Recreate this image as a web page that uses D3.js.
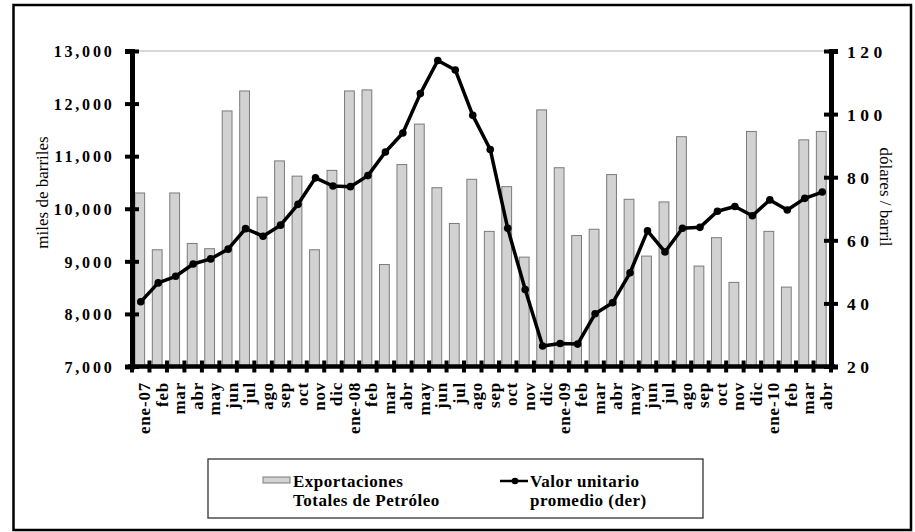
<!DOCTYPE html>
<html>
<head>
<meta charset="utf-8">
<script src="https://cdn.jsdelivr.net/npm/d3@7/dist/d3.min.js"></script>
<style>
  body { margin: 0; background: #fff; }
  svg { display: block; }
</style>
</head>
<body>
<script>
// months, ene-07 .. abr-10
var months = ["ene-07","feb","mar","abr","may","jun","jul","ago","sep","oct","nov","dic",
              "ene-08","feb","mar","abr","may","jun","jul","ago","sep","oct","nov","dic",
              "ene-09","feb","mar","abr","may","jun","jul","ago","sep","oct","nov","dic",
              "ene-10","feb","mar","abr"];

// Exportaciones totales de petroleo (miles de barriles)
var exportaciones = [10300, 9220, 10300, 9340, 9240, 11860, 12240, 10220, 10910, 10620, 9220, 10730,
                     12240, 12260, 8940, 10840, 11610, 10400, 9720, 10560, 9570, 10420, 9080, 11880,
                     10780, 9490, 9610, 10650, 10180, 9100, 10130, 11370, 8910, 9450, 8600, 11470,
                     9570, 8510, 11310, 11470];

// Valor unitario promedio (dolares / barril)
var valorUnitario = [40.5, 46.5, 48.6, 52.5, 54.1, 57.2, 63.7, 61.3, 64.8, 71.4, 79.8, 77.2,
                     77.0, 80.5, 88.0, 94.0, 106.5, 117.0, 114.0, 99.6, 88.8, 63.8, 44.4, 26.5,
                     27.3, 27.1, 36.7, 40.2, 49.7, 63.0, 56.3, 63.8, 64.1, 69.2, 70.7, 67.8,
                     72.8, 69.6, 73.3, 75.3];

var leftTicks = [7000, 8000, 9000, 10000, 11000, 12000, 13000];
var rightTicks = [20, 40, 60, 80, 100, 120];

function drawChart() {
  var W = 915, H = 532;
  var plotLeft = 132, plotRight = 831, plotTop = 51, plotBottom = 366.5;
  var serif = "'Liberation Serif', 'Times New Roman', serif";

  var svg = d3.select("body").append("svg")
    .attr("width", W)
    .attr("height", H);

  svg.append("rect").attr("width", W).attr("height", H).attr("fill", "#fff");

  // outer frame
  svg.append("rect")
    .attr("x", 13.5).attr("y", 5)
    .attr("width", 897.5).attr("height", 525)
    .attr("fill", "none")
    .attr("stroke", "#000")
    .attr("stroke-width", 2.5);

  // scales
  var x = d3.scaleBand()
    .domain(d3.range(months.length))
    .range([plotLeft, plotRight])
    .paddingInner(0.44)
    .paddingOuter(0.22);

  var y = d3.scaleLinear().domain([7000, 13000]).range([plotBottom, plotTop]);
  var y2 = d3.scaleLinear().domain([20, 120]).range([plotBottom, plotTop]);

  // top border of plot area
  svg.append("line")
    .attr("x1", plotLeft).attr("x2", plotRight)
    .attr("y1", y(13000)).attr("y2", y(13000))
    .attr("stroke", "#b0b0b0")
    .attr("stroke-width", 1);

  // bars
  svg.selectAll("rect.bar")
    .data(exportaciones)
    .enter().append("rect")
    .attr("class", "bar")
    .attr("x", function (d, i) { return x(i) - 1; })
    .attr("y", function (d) { return y(d); })
    .attr("width", x.bandwidth())
    .attr("height", function (d) { return y(7000) - y(d); })
    .attr("fill", "#d2d2d2")
    .attr("stroke", "#7a7a7a")
    .attr("stroke-width", 1);

  // line
  var line = d3.line()
    .x(function (d, i) { return x(i) + x.bandwidth() / 2; })
    .y(function (d) { return y2(d); });

  svg.append("path")
    .datum(valorUnitario)
    .attr("d", line)
    .attr("fill", "none")
    .attr("stroke", "#000")
    .attr("stroke-width", 3.5)
    .attr("stroke-linejoin", "round");

  svg.selectAll("circle.pt")
    .data(valorUnitario)
    .enter().append("circle")
    .attr("class", "pt")
    .attr("cx", function (d, i) { return x(i) + x.bandwidth() / 2; })
    .attr("cy", function (d) { return y2(d); })
    .attr("r", 3.8)
    .attr("fill", "#000");

  // left axis
  var gl = svg.append("g")
    .attr("transform", "translate(" + plotLeft + ",0)")
    .call(d3.axisLeft(y).tickValues(leftTicks).tickSize(7).tickFormat(d3.format(",")));
  gl.select(".domain").attr("stroke", "#000").attr("stroke-width", 5);
  gl.selectAll(".tick line").attr("x1", -7).attr("x2", 7).attr("stroke-width", 4);
  gl.selectAll(".tick text")
    .attr("x", -17.5)
    .attr("dy", "0.36em")
    .style("font-family", serif)
    .style("font-size", "16px")
    .style("font-weight", "bold")
    .style("letter-spacing", "2.8px")
    .attr("fill", "#000");

  // right axis
  var gr = svg.append("g")
    .attr("transform", "translate(" + plotRight + ",0)")
    .call(d3.axisRight(y2).tickValues(rightTicks).tickSize(7));
  gr.select(".domain").attr("stroke", "#000").attr("stroke-width", 5);
  gr.selectAll(".tick line").attr("x1", -7).attr("x2", 7).attr("stroke-width", 4);
  gr.selectAll(".tick text")
    .attr("x", 16)
    .attr("dy", "0.36em")
    .style("font-family", serif)
    .style("font-size", "17.5px")
    .style("font-weight", "bold")
    .style("letter-spacing", "4.5px")
    .attr("fill", "#000");

  // bottom axis with month labels
  var gb = svg.append("g")
    .attr("transform", "translate(0," + plotBottom + ")")
    .call(d3.axisBottom(x).tickSize(0).tickFormat(function (i) { return months[i]; }));
  gb.select(".domain").remove();
  gb.selectAll(".tick text")
    .attr("transform", "rotate(-90)")
    .attr("text-anchor", "end")
    .attr("x", -15.5)
    .attr("y", 9.5)
    .attr("dy", 0)
    .style("font-family", serif)
    .style("font-size", "17px")
    .style("font-weight", "bold")
    .style("letter-spacing", "0.8px")
    .attr("fill", "#000");

  svg.append("line")
    .attr("x1", plotLeft - 4).attr("x2", plotRight + 4)
    .attr("y1", plotBottom).attr("y2", plotBottom)
    .attr("stroke", "#000")
    .attr("stroke-width", 4.5);

  // ticks at the month boundaries
  svg.selectAll("line.bt")
    .data(d3.range(months.length + 1))
    .enter().append("line")
    .attr("class", "bt")
    .attr("x1", function (i) { return plotLeft + i * x.step(); })
    .attr("x2", function (i) { return plotLeft + i * x.step(); })
    .attr("y1", plotBottom - 6)
    .attr("y2", plotBottom + 6)
    .attr("stroke", "#000")
    .attr("stroke-width", 4);

  // axis titles
  svg.append("text")
    .attr("transform", "translate(48,192.5) rotate(-90)")
    .attr("text-anchor", "middle")
    .style("font-family", serif)
    .style("font-size", "17px")
    .text("miles de barriles");

  svg.append("text")
    .attr("transform", "translate(880,197) rotate(90)")
    .attr("text-anchor", "middle")
    .style("font-family", serif)
    .style("font-size", "17px")
    .text("dólares / barril");

  // legend
  var lg = svg.append("g");
  lg.append("rect")
    .attr("x", 208).attr("y", 459)
    .attr("width", 495).attr("height", 59)
    .attr("fill", "none")
    .attr("stroke", "#333")
    .attr("stroke-width", 1.3);

  lg.append("rect")
    .attr("x", 263).attr("y", 477)
    .attr("width", 27).attr("height", 6)
    .attr("fill", "#d2d2d2")
    .attr("stroke", "#7a7a7a")
    .attr("stroke-width", 1);

  lg.append("line")
    .attr("x1", 500).attr("x2", 528)
    .attr("y1", 481).attr("y2", 481)
    .attr("stroke", "#000")
    .attr("stroke-width", 2.5);
  lg.append("circle")
    .attr("cx", 515).attr("cy", 481).attr("r", 3.3)
    .attr("fill", "#000");

  var legendText = [
    { x: 293, lines: ["Exportaciones", "Totales de Petróleo"] },
    { x: 530, lines: ["Valor unitario", "promedio (der)"] }
  ];
  legendText.forEach(function (item) {
    item.lines.forEach(function (t, k) {
      lg.append("text")
        .attr("x", item.x)
        .attr("y", 487 + k * 19)
        .style("font-family", serif)
        .style("font-size", "17px")
        .style("font-weight", "bold")
        .style("letter-spacing", "0.5px")
        .text(t);
    });
  });
}

drawChart();
</script>
</body>
</html>
